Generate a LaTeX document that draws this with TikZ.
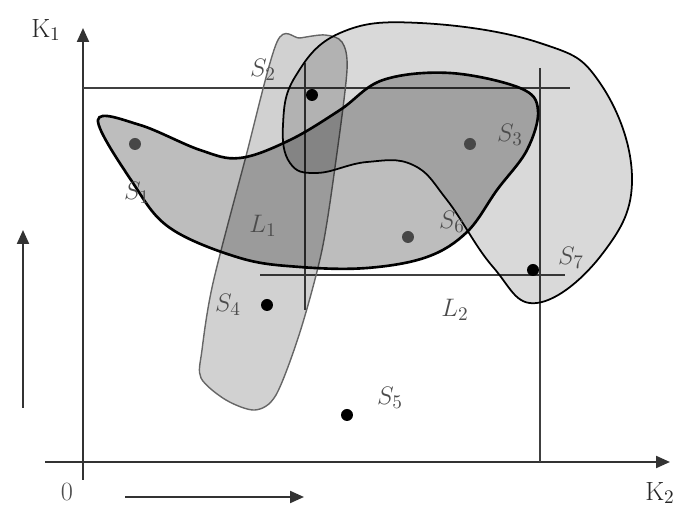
\documentclass[tikz,border=0pt]{standalone}
\usepackage{amsmath}
\usetikzlibrary{arrows.meta}

\begin{document}
\begin{tikzpicture}[
  x=0.02cm, y=-0.02cm,
  axis/.style={draw=black!80, line width=1.2pt, -{Triangle[length=0.28cm,width=0.24cm]}},
  grid/.style={draw=black!75, line width=1pt},
  narrow/.style={draw=black!60, line width=0.8pt, fill=black, fill opacity=0.18},
  outer/.style={draw=black, line width=1pt, fill=black, fill opacity=0.15},
  inner/.style={draw=black, line width=1.5pt, fill=black, fill opacity=0.26},
  dot/.style={circle, fill=black, inner sep=0pt, minimum size=0.24cm},
  greydot/.style={dot, fill=black!72},
  lbl/.style={font=\fontsize{15}{18}\selectfont, text=black!70, inner sep=0pt}
]
\useasboundingbox (0,0) rectangle (681,509);

% axes and guide lines
\coordinate (ybot) at (83,480);
\coordinate (ytop) at (83,28);
\coordinate (xleft) at (45,462);
\coordinate (xright) at (670,462);
\draw[axis] (ybot) -- (ytop);
\draw[axis] (xleft) -- (xright);

\coordinate (ua) at (23,408);
\coordinate (ub) at (23,230);
\draw[axis] (ua) -- (ub);
\coordinate (ra) at (125,497);
\coordinate (rb) at (304,497);
\draw[axis] (ra) -- (rb);

\coordinate (ta) at (83,88);
\coordinate (tb) at (570,88);
\draw[grid] (ta) -- (tb);
\coordinate (va) at (540,68);
\coordinate (vb) at (540,462);
\draw[grid] (va) -- (vb);
\coordinate (l1a) at (305,63);
\coordinate (l1b) at (305,310);
\draw[grid] (l1a) -- (l1b);
\coordinate (l2a) at (260,275);
\coordinate (l2b) at (565,275);
\draw[grid] (l2a) -- (l2b);

% regions
\draw[narrow] plot[smooth cycle, tension=0.5] coordinates {
  (277,42) (300,38) (325,35) (342,42) (347,70) (336,160) (322,250) (300,332)
  (276,395) (255,410) (226,400) (201,378) (202,350) (213,283) (245,160)};
\draw[outer] plot[smooth cycle, tension=0.7] coordinates {
  (340,33) (420,23) (540,43) (600,83) (632,177) (603,253) (537,303)
  (493,267) (447,200) (413,165) (367,162) (317,173) (290,163) (283,125) (295,77)};
\draw[inner] plot[smooth cycle, tension=0.6] coordinates {
  (98,120) (133,183) (170,228) (240,258) (300,267) (367,268) (427,257)
  (467,232) (497,190) (527,150) (538,110) (520,88) (450,73) (383,80)
  (340,110) (290,140) (240,158) (200,150) (140,125)};

% points
\node[greydot] (p1) at (135,144) {};
\node[dot] (p2) at (312,95) {};
\node[greydot] (p3) at (470,144) {};
\node[dot] (p4) at (267,305) {};
\node[dot] (p5) at (347,415) {};
\node[greydot] (p6) at (408,237) {};
\node[dot] (p7) at (533,270) {};

% labels
\node[lbl] (s1) at (137,193) {$S_1$};
\node[lbl] (s2) at (263,70) {$S_2$};
\node[lbl] (s3) at (510,135) {$S_3$};
\node[lbl] (s4) at (228,305) {$S_4$};
\node[lbl] (s5) at (390,398) {$S_5$};
\node[lbl] (s6) at (452,222) {$S_6$};
\node[lbl] (s7) at (571,258) {$S_7$};
\node[lbl] (ll1) at (263,226) {$L_1$};
\node[lbl] (ll2) at (455,310) {$L_2$};
\node[lbl, text=black!85] (k1) at (46,30) {K$_1$};
\node[lbl, text=black!85] (k2) at (660,493) {K$_2$};
\node[lbl] (zero) at (67,492) {0};

\end{tikzpicture}
\end{document}
